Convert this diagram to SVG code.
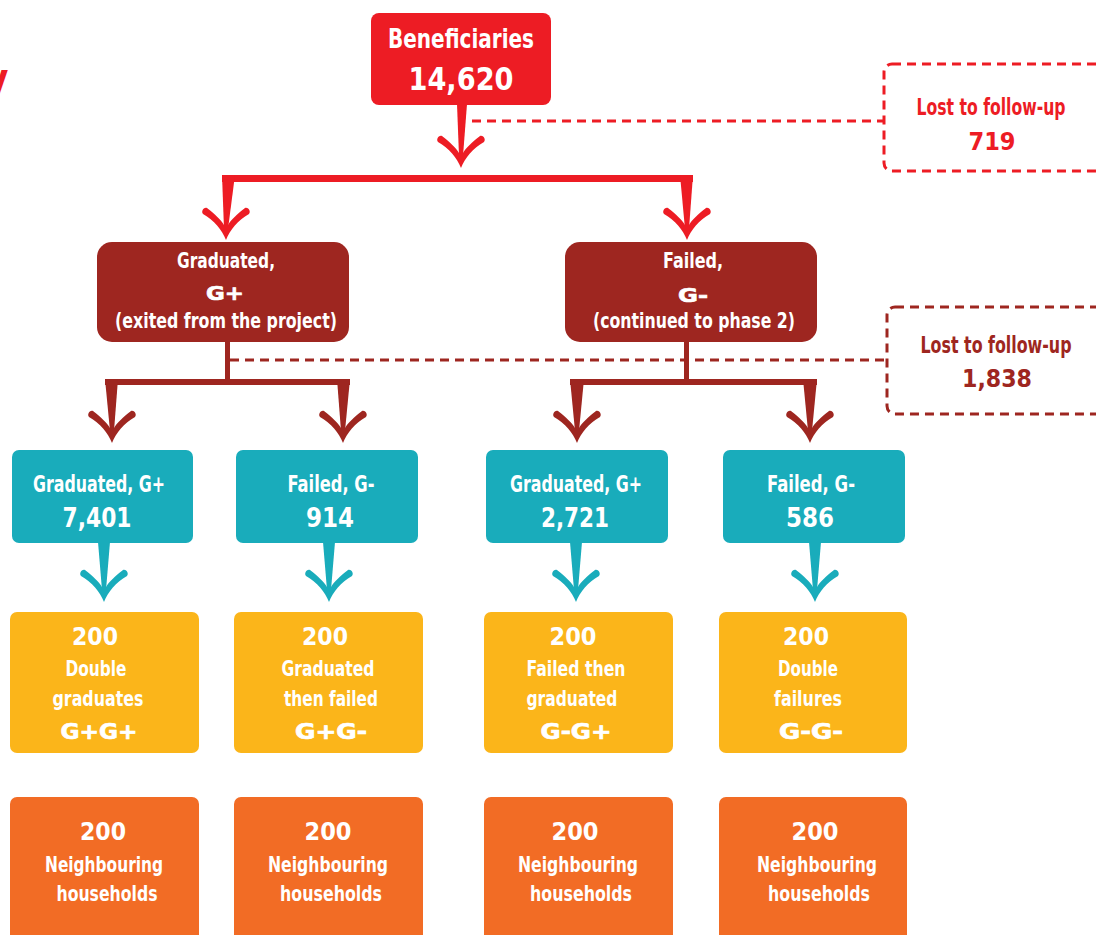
<svg xmlns="http://www.w3.org/2000/svg" xmlns:xlink="http://www.w3.org/1999/xlink" width="1096" height="935" viewBox="0 0 1096 935">
<style>
.c{font-family:"Liberation Sans Narrow","DejaVu Sans Condensed","Liberation Sans",sans-serif;font-weight:bold;text-anchor:middle;fill:#fff}
.g{font-family:"DejaVu Sans","Liberation Sans",sans-serif;font-weight:bold;text-anchor:middle;fill:#fff;stroke:#fff;stroke-width:0.7}
.red{fill:#ED1C24}
.dred{fill:#9E2620}
.teal{fill:#19ACBB}
.yel{fill:#FBB51A}
.org{fill:#F26C25}
.dash{fill:none;stroke-width:3;stroke-dasharray:9 6}
</style>
<defs>
<path id="ah" d="M0,0 C-4,-10 -12,-20 -23,-26 C-25,-28 -23,-33 -19,-32 C-11,-26 -5,-20 -2,-15 L2,-15 C5,-20 11,-26 19,-32 C23,-33 25,-28 23,-26 C12,-20 4,-10 0,0 Z"/>
</defs>
<rect width="1096" height="935" fill="#fff"/>
<text x="-15" y="92" class="c" style="fill:#ED1C24;text-anchor:start;font-size:40px">y</text>

<g id="connectors">
  <line x1="472" y1="121" x2="884" y2="121" stroke="#ED1C24" class="dash"/>
  <line x1="230" y1="360" x2="887" y2="360" stroke="#9E2620" class="dash"/>
  <g class="red">
    <polygon points="457,104 467,104 463,156 459,156"/>
    <use xlink:href="#ah" transform="translate(461,168)"/>
    <rect x="222" y="175" width="471" height="7"/>
    <polygon points="222,175 235,175 228,229 224,229"/>
    <use xlink:href="#ah" transform="translate(226,240)"/>
    <polygon points="680,175 693,175 689,229 685,229"/>
    <use xlink:href="#ah" transform="translate(687,240)"/>
  </g>
  <g class="dred">
    <rect x="225" y="340" width="5" height="43"/>
    <rect x="105" y="379" width="245" height="6"/>
    <polygon points="105,379 118,379 114,431 110,431"/>
    <use xlink:href="#ah" transform="translate(112,443)"/>
    <polygon points="337,379 350,379 345,431 341,431"/>
    <use xlink:href="#ah" transform="translate(343,443)"/>
    <rect x="684" y="340" width="5" height="43"/>
    <rect x="570" y="379" width="247" height="6"/>
    <polygon points="570,379 584,379 579,431 575,431"/>
    <use xlink:href="#ah" transform="translate(577,443)"/>
    <polygon points="803,379 817,379 812,431 808,431"/>
    <use xlink:href="#ah" transform="translate(810,443)"/>
  </g>
  <g class="teal">
    <polygon points="98,542 110,542 106,590 102,590"/>
    <use xlink:href="#ah" transform="translate(104,602)"/>
    <polygon points="323,542 335,542 331,590 327,590"/>
    <use xlink:href="#ah" transform="translate(329,602)"/>
    <polygon points="570,542 582,542 578,590 574,590"/>
    <use xlink:href="#ah" transform="translate(576,602)"/>
    <polygon points="809,542 821,542 817,590 813,590"/>
    <use xlink:href="#ah" transform="translate(815,602)"/>
  </g>
</g>

<g id="beneficiaries">
  <rect x="371" y="13" width="180" height="92" rx="8" class="red"/>
  <text x="461" y="48" class="c" style="font-size:26px" textLength="146" lengthAdjust="spacingAndGlyphs">Beneficiaries</text>
  <text x="461" y="90" class="c" style="font-size:32px" textLength="105" lengthAdjust="spacingAndGlyphs">14,620</text>
</g>

<g id="lost1">
  <rect x="884" y="64" width="240" height="107" rx="8" stroke="#ED1C24" class="dash"/>
  <text x="991" y="115" class="c" style="fill:#ED1C24;font-size:23px" textLength="149" lengthAdjust="spacingAndGlyphs">Lost to follow-up</text>
  <text x="992" y="150" class="c" style="fill:#ED1C24;font-size:25px" textLength="47" lengthAdjust="spacingAndGlyphs">719</text>
</g>

<g id="lost2">
  <rect x="887" y="307" width="240" height="107" rx="8" stroke="#9E2620" class="dash"/>
  <text x="996" y="353" class="c" style="fill:#9E2620;font-size:23px" textLength="151" lengthAdjust="spacingAndGlyphs">Lost to follow-up</text>
  <text x="997" y="387" class="c" style="fill:#9E2620;font-size:25px" textLength="70" lengthAdjust="spacingAndGlyphs">1,838</text>
</g>

<g id="graduated">
  <rect x="97" y="242" width="252" height="100" rx="15" class="dred"/>
  <text x="226" y="268" class="c" style="font-size:22px" textLength="98" lengthAdjust="spacingAndGlyphs">Graduated,</text>
  <text x="225" y="300" class="g" style="font-size:20px" textLength="38" lengthAdjust="spacingAndGlyphs">G+</text>
  <text x="226" y="328" class="c" style="font-size:22px" textLength="222" lengthAdjust="spacingAndGlyphs">(exited from the project)</text>
</g>

<g id="failed">
  <rect x="565" y="242" width="252" height="100" rx="15" class="dred"/>
  <text x="693" y="268" class="c" style="font-size:22px" textLength="60" lengthAdjust="spacingAndGlyphs">Failed,</text>
  <text x="693" y="302" class="g" style="font-size:20px" textLength="30" lengthAdjust="spacingAndGlyphs">G-</text>
  <text x="694" y="328" class="c" style="font-size:22px" textLength="202" lengthAdjust="spacingAndGlyphs">(continued to phase 2)</text>
</g>

<g id="t1">
  <rect x="12" y="450" width="181" height="93" rx="7" class="teal"/>
  <text x="99" y="492" class="c" style="font-size:23px" textLength="132" lengthAdjust="spacingAndGlyphs">Graduated, G+</text>
  <text x="97" y="527" class="c" style="font-size:26px" textLength="69" lengthAdjust="spacingAndGlyphs">7,401</text>
</g>
<g id="t2">
  <rect x="236" y="450" width="182" height="93" rx="7" class="teal"/>
  <text x="331" y="492" class="c" style="font-size:23px" textLength="87" lengthAdjust="spacingAndGlyphs">Failed, G-</text>
  <text x="330" y="527" class="c" style="font-size:26px" textLength="48" lengthAdjust="spacingAndGlyphs">914</text>
</g>
<g id="t3">
  <rect x="486" y="450" width="182" height="93" rx="7" class="teal"/>
  <text x="576" y="492" class="c" style="font-size:23px" textLength="132" lengthAdjust="spacingAndGlyphs">Graduated, G+</text>
  <text x="575" y="527" class="c" style="font-size:26px" textLength="68" lengthAdjust="spacingAndGlyphs">2,721</text>
</g>
<g id="t4">
  <rect x="723" y="450" width="182" height="93" rx="7" class="teal"/>
  <text x="811" y="492" class="c" style="font-size:23px" textLength="88" lengthAdjust="spacingAndGlyphs">Failed, G-</text>
  <text x="810" y="527" class="c" style="font-size:26px" textLength="48" lengthAdjust="spacingAndGlyphs">586</text>
</g>

<g id="y1">
  <rect x="10" y="612" width="189" height="141" rx="7" class="yel"/>
  <text x="95" y="645" class="c" style="font-size:24px" textLength="46" lengthAdjust="spacingAndGlyphs">200</text>
  <text x="96" y="676" class="c" style="font-size:21px" textLength="61" lengthAdjust="spacingAndGlyphs">Double</text>
  <text x="98" y="706" class="c" style="font-size:21px" textLength="91" lengthAdjust="spacingAndGlyphs">graduates</text>
  <text x="99" y="739" class="g" style="font-size:21px" textLength="77" lengthAdjust="spacingAndGlyphs">G+G+</text>
</g>
<g id="y2">
  <rect x="234" y="612" width="189" height="141" rx="7" class="yel"/>
  <text x="325" y="645" class="c" style="font-size:24px" textLength="46" lengthAdjust="spacingAndGlyphs">200</text>
  <text x="328" y="676" class="c" style="font-size:21px" textLength="93" lengthAdjust="spacingAndGlyphs">Graduated</text>
  <text x="331" y="706" class="c" style="font-size:21px" textLength="94" lengthAdjust="spacingAndGlyphs">then failed</text>
  <text x="331" y="739" class="g" style="font-size:21px" textLength="72" lengthAdjust="spacingAndGlyphs">G+G-</text>
</g>
<g id="y3">
  <rect x="484" y="612" width="189" height="141" rx="7" class="yel"/>
  <text x="573" y="645" class="c" style="font-size:24px" textLength="47" lengthAdjust="spacingAndGlyphs">200</text>
  <text x="576" y="676" class="c" style="font-size:21px" textLength="99" lengthAdjust="spacingAndGlyphs">Failed then</text>
  <text x="572" y="706" class="c" style="font-size:21px" textLength="91" lengthAdjust="spacingAndGlyphs">graduated</text>
  <text x="576" y="739" class="g" style="font-size:21px" textLength="71" lengthAdjust="spacingAndGlyphs">G-G+</text>
</g>
<g id="y4">
  <rect x="719" y="612" width="188" height="141" rx="7" class="yel"/>
  <text x="806" y="645" class="c" style="font-size:24px" textLength="46" lengthAdjust="spacingAndGlyphs">200</text>
  <text x="808" y="676" class="c" style="font-size:21px" textLength="60" lengthAdjust="spacingAndGlyphs">Double</text>
  <text x="808" y="706" class="c" style="font-size:21px" textLength="68" lengthAdjust="spacingAndGlyphs">failures</text>
  <text x="811" y="739" class="g" style="font-size:21px" textLength="64" lengthAdjust="spacingAndGlyphs">G-G-</text>
</g>

<g id="o1">
  <rect x="10" y="797" width="189" height="160" rx="7" class="org"/>
  <text x="103" y="840" class="c" style="font-size:24px" textLength="46" lengthAdjust="spacingAndGlyphs">200</text>
  <text x="104" y="872" class="c" style="font-size:22px" textLength="118" lengthAdjust="spacingAndGlyphs">Neighbouring</text>
  <text x="107" y="901" class="c" style="font-size:22px" textLength="101" lengthAdjust="spacingAndGlyphs">households</text>
</g>
<g id="o2">
  <rect x="234" y="797" width="189" height="160" rx="7" class="org"/>
  <text x="328" y="840" class="c" style="font-size:24px" textLength="47" lengthAdjust="spacingAndGlyphs">200</text>
  <text x="328" y="872" class="c" style="font-size:22px" textLength="120" lengthAdjust="spacingAndGlyphs">Neighbouring</text>
  <text x="331" y="901" class="c" style="font-size:22px" textLength="102" lengthAdjust="spacingAndGlyphs">households</text>
</g>
<g id="o3">
  <rect x="484" y="797" width="189" height="160" rx="7" class="org"/>
  <text x="575" y="840" class="c" style="font-size:24px" textLength="47" lengthAdjust="spacingAndGlyphs">200</text>
  <text x="578" y="872" class="c" style="font-size:22px" textLength="120" lengthAdjust="spacingAndGlyphs">Neighbouring</text>
  <text x="581" y="901" class="c" style="font-size:22px" textLength="102" lengthAdjust="spacingAndGlyphs">households</text>
</g>
<g id="o4">
  <rect x="719" y="797" width="188" height="160" rx="7" class="org"/>
  <text x="815" y="840" class="c" style="font-size:24px" textLength="47" lengthAdjust="spacingAndGlyphs">200</text>
  <text x="817" y="872" class="c" style="font-size:22px" textLength="120" lengthAdjust="spacingAndGlyphs">Neighbouring</text>
  <text x="819" y="901" class="c" style="font-size:22px" textLength="102" lengthAdjust="spacingAndGlyphs">households</text>
</g>
</svg>
